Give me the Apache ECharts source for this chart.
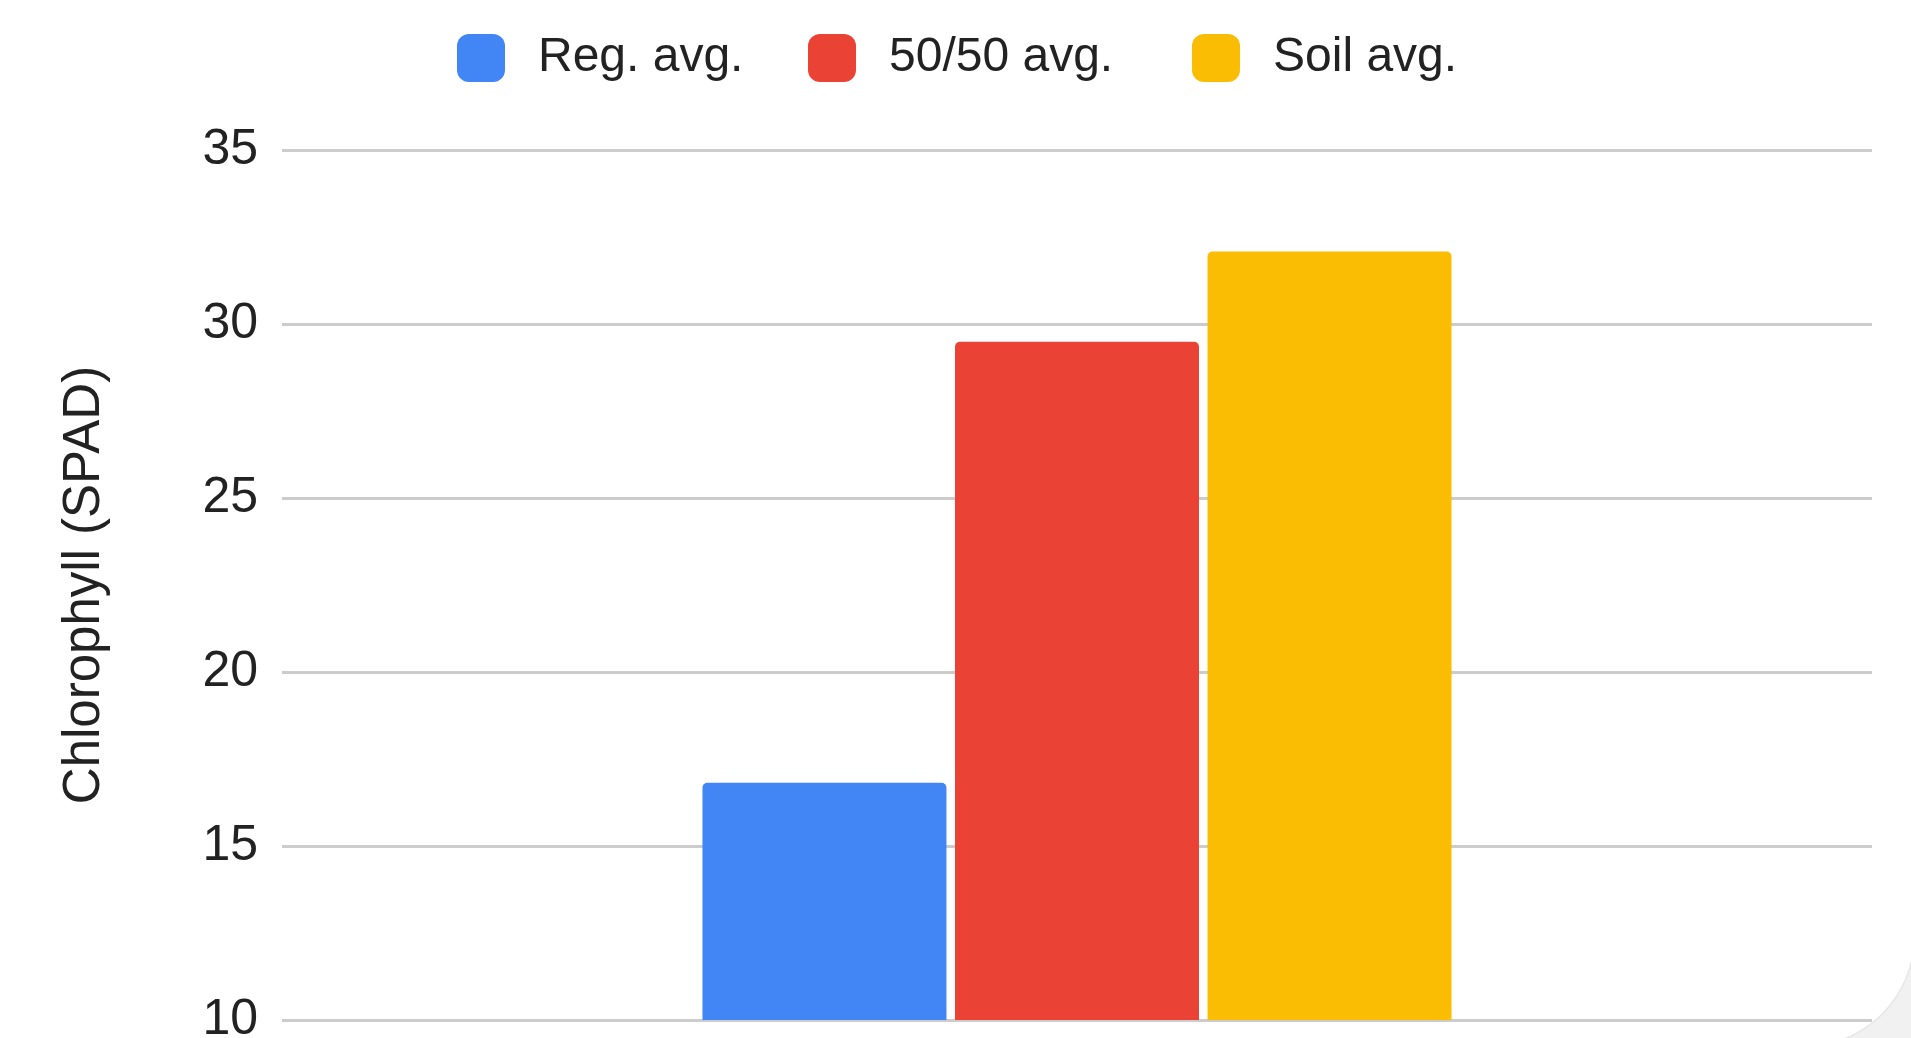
<!DOCTYPE html>
<html>
<head>
<meta charset="utf-8">
<script src="https://cdn.jsdelivr.net/npm/echarts@6/dist/echarts.min.js"></script>
<style>
  html, body { margin: 0; padding: 0; width: 1911px; height: 1038px; overflow: hidden; background: #f1f1f1; }
  #card { position: absolute; left: -20px; top: -20px; width: 1934px; height: 1066px; background: #fff;
          border-bottom-right-radius: 110px; box-shadow: 0 0 2px rgba(0,0,0,0.2); }
  #chart { position: absolute; left: 0; top: 0; width: 1911px; height: 1038px; }
</style>
</head>
<body>
<div id="card"></div>
<div id="chart"></div>
<script>
const categories = [''];
const seriesNames = ['Reg. avg.', '50/50 avg.', 'Soil avg.'];
const regAvg = [16.82];
const fiftyAvg = [29.49];
const soilAvg = [32.08];
const yTicks = { min: 10, max: 35, interval: 5 };
const yAxisTitle = 'Chlorophyll (SPAD)';
const colors = ['#4285F4', '#EA4335', '#FBBC04'];
const legendLefts = [457, 808, 1192];

const font = '"Liberation Sans", Arial, sans-serif';
const chart = echarts.init(document.getElementById('chart'), null, { renderer: 'canvas' });

const values = [regAvg, fiftyAvg, soilAvg];
chart.setOption({
  animation: false,
  backgroundColor: 'transparent',
  color: colors,
  textStyle: { fontFamily: font },
  legend: seriesNames.map((n, i) => ({
    top: 34,
    left: legendLefts[i],
    padding: 0,
    itemWidth: 48,
    itemHeight: 48,
    icon: 'roundRect',
    textStyle: { fontSize: 48, color: '#222', fontFamily: font, padding: [0, 0, 0, 28] },
    data: [n]
  })),
  grid: { left: 282, right: 39, top: 150, bottom: 18, outerBoundsMode: 'none', containLabel: false },
  xAxis: {
    type: 'category',
    data: categories,
    axisLine: { show: false },
    axisTick: { show: false },
    axisLabel: { show: false }
  },
  yAxis: {
    type: 'value',
    min: yTicks.min,
    max: yTicks.max,
    interval: yTicks.interval,
    name: yAxisTitle,
    nameLocation: 'middle',
    nameGap: 172,
    nameTextStyle: { fontSize: 51, color: '#222', fontFamily: font },
    axisLine: { show: false },
    axisTick: { show: false },
    axisLabel: { fontSize: 50, color: '#222', margin: 24, fontFamily: font },
    splitLine: { lineStyle: { color: '#cccccc', width: 3 } }
  },
  series: seriesNames.map((n, i) => ({
    name: n,
    type: 'bar',
    data: values[i],
    barWidth: 244,
    barGap: '3.5%',
    itemStyle: { color: colors[i], borderRadius: [5, 5, 0, 0] }
  }))
});
</script>
</body>
</html>
